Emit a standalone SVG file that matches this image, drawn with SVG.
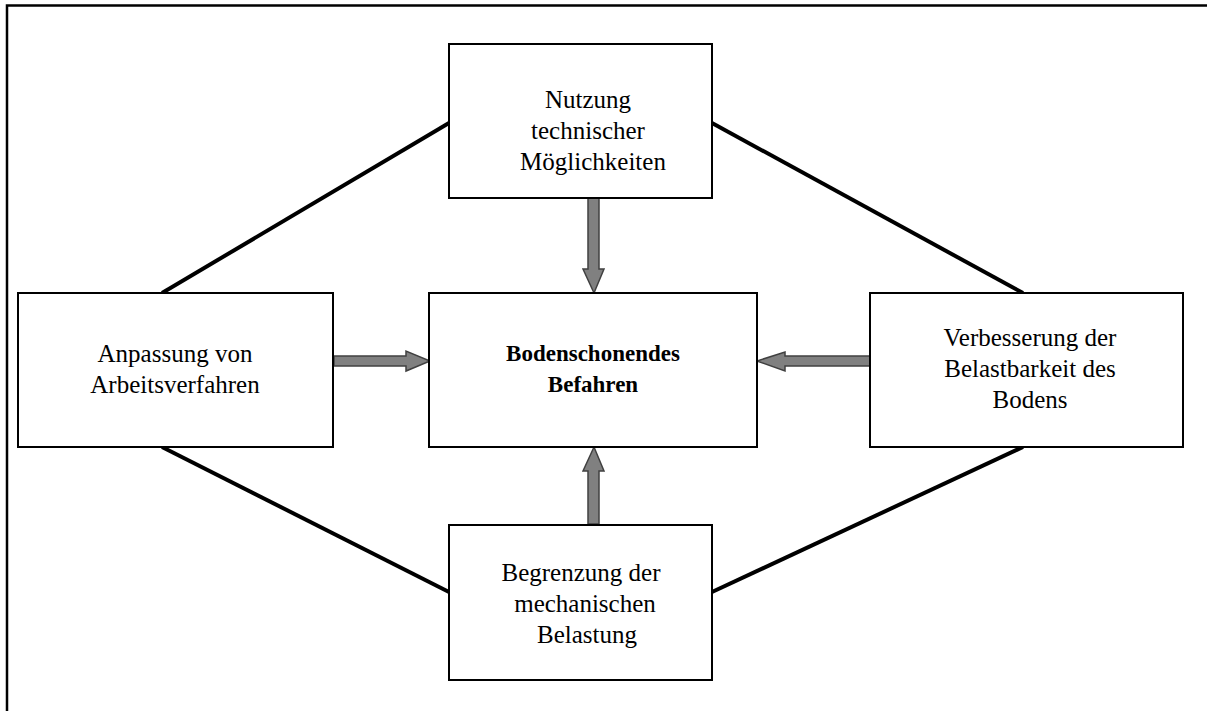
<svg xmlns="http://www.w3.org/2000/svg" width="1207" height="711" viewBox="0 0 1207 711">
  <style>
    .box { fill: #ffffff; stroke: #000000; stroke-width: 2; }
    .link { stroke: #000000; stroke-width: 4; fill: none; }
    .arrow { fill: #808080; stroke: #404040; stroke-width: 1.5; stroke-linejoin: miter; }
    .label { font-family: "Liberation Serif", "Times New Roman", serif; font-size: 25px; fill: #000000; text-anchor: middle; }
    .bold { font-weight: bold; font-size: 23px; }
  </style>
  <rect width="1207" height="711" fill="#ffffff"/>
  <!-- page frame (top and left only) -->
  <polyline points="7,711 7,5.5 1207,5.5" fill="none" stroke="#000000" stroke-width="2.5"/>

  <g id="connectors">
    <line class="link" x1="449" y1="123" x2="162" y2="293"/>
    <line class="link" x1="712" y1="123" x2="1023" y2="293"/>
    <line class="link" x1="162" y1="447" x2="449" y2="592"/>
    <line class="link" x1="1023" y1="447" x2="712" y2="592"/>
    <!-- block arrows into the centre -->
    <polygon class="arrow" points="334,356 406,356 406,351 430,361 406,371 406,366 334,366"/>
    <polygon class="arrow" points="870,356 785,356 785,352 757,361 785,371 785,366 870,366"/>
    <polygon class="arrow" points="588,198 599,198 599,269 604,269 594,293 583,269 588,269"/>
    <polygon class="arrow" points="588,524 599,524 599,471 604,471 594,447 583,471 588,471"/>
  </g>

  <g id="top">
    <rect class="box" x="449" y="44" width="263" height="154"/>
    <text class="label" x="588" y="108">Nutzung</text>
    <text class="label" x="588" y="139">technischer</text>
    <text class="label" x="593" y="170">Möglichkeiten</text>
  </g>

  <g id="left">
    <rect class="box" x="18" y="293" width="315" height="154"/>
    <text class="label" x="175" y="362">Anpassung von</text>
    <text class="label" x="175" y="393">Arbeitsverfahren</text>
  </g>

  <g id="center">
    <rect class="box" x="429" y="293" width="328" height="154"/>
    <text class="label bold" x="593" y="361">Bodenschonendes</text>
    <text class="label bold" x="593" y="392">Befahren</text>
  </g>

  <g id="right">
    <rect class="box" x="870" y="293" width="313" height="154"/>
    <text class="label" x="1030" y="346">Verbesserung der</text>
    <text class="label" x="1030" y="377">Belastbarkeit des</text>
    <text class="label" x="1030" y="408">Bodens</text>
  </g>

  <g id="bottom">
    <rect class="box" x="449" y="525" width="263" height="155"/>
    <text class="label" x="581" y="581">Begrenzung der</text>
    <text class="label" x="585" y="612">mechanischen</text>
    <text class="label" x="587" y="643">Belastung</text>
  </g>
</svg>
